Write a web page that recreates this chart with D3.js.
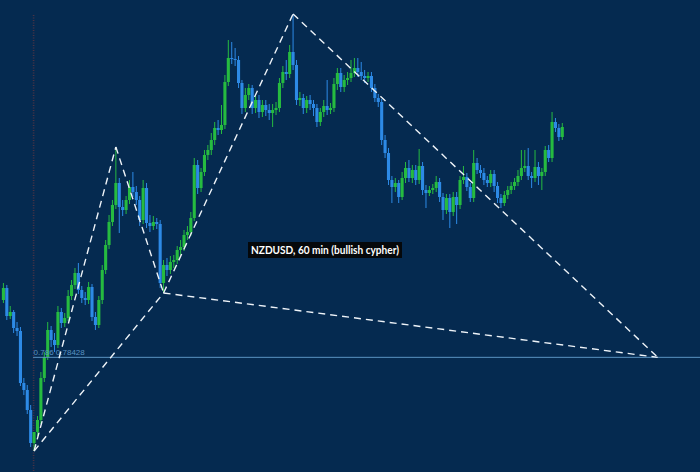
<!DOCTYPE html>
<html><head><meta charset="utf-8">
<script src="https://cdn.jsdelivr.net/npm/d3@7"></script>
<style>html,body{margin:0;padding:0;background:#052a50;overflow:hidden}</style>
</head><body>
<svg id="chart" width="700" height="472"></svg>
<script>
// Hourly NZDUSD candles, prices in points (1 point = 0.00001)
const opens = [
78600,78636,78552,78564,78516,78507,78351,78330,78270,78171,
78204,78240,78366,78429,78510,78480,78465,78564,78531,78546,
78612,78645,78681,78630,78606,78600,78639,78549,78525,78600,
78690,78765,78834,78885,78951,78879,78870,78900,78939,78924,
78900,78840,78936,78831,78822,78834,78828,78651,78705,78690,
78714,78720,78750,78759,78795,78804,78846,79005,78936,78984,
79035,79050,79080,79116,79110,79125,79254,79326,79323,79320,
79251,79176,79215,79236,79176,79200,79164,79185,79170,79161,
79170,79176,79251,79284,79278,79344,79305,79200,79206,79176,
79200,79188,79176,79134,79164,79182,79170,79176,79248,79281,
79239,79260,79266,79281,79296,79284,79272,79266,79272,79236,
79206,79194,79080,79041,78960,78939,78951,78909,78966,78996,
78966,78990,78960,79002,78930,78921,78930,78936,78954,78909,
78870,78906,78864,78909,78885,78960,78969,78939,78906,79011,
78990,78981,78960,78951,78978,78942,78906,78891,78915,78930,
78942,78954,78972,78996,79002,78972,78966,78999,78972,78984,
79050,79026,79134,79116,79089];
const highs = [
78651,78645,78582,78570,78534,78519,78366,78345,78285,78189,
78252,78384,78444,78534,78522,78501,78582,78576,78561,78630,
78660,78696,78711,78642,78624,78654,78648,78564,78612,78705,
78780,78855,78900,79059,78966,78900,78912,78960,78984,78942,
78912,78960,78951,78855,78852,78846,78840,78720,78726,78732,
78735,78762,78780,78810,78822,78864,79026,79020,78996,79050,
79065,79101,79134,79140,79185,79275,79380,79374,79356,79332,
79260,79236,79248,79245,79212,79215,79200,79200,79188,79188,
79194,79266,79302,79320,79365,79458,79320,79224,79218,79212,
79215,79200,79188,79176,79200,79260,79191,79266,79296,79296,
79275,79284,79320,79326,79326,79314,79290,79284,79284,79248,
79218,79203,79095,79056,78972,78966,78960,78984,79014,79020,
79005,79005,79053,79014,78945,78942,78948,78972,78966,78921,
78918,78918,78924,78924,78972,79002,78981,78951,79050,79026,
79005,78996,78972,78990,78990,78954,78918,78927,78942,78954,
78966,78990,79050,79050,79056,78984,79050,79014,78996,79062,
79065,79164,79146,79128,79131];
const lows = [
78591,78540,78543,78501,78492,78342,78315,78258,78159,78147,
78192,78228,78354,78420,78459,78444,78456,78516,78519,78537,
78600,78633,78618,78591,78585,78588,78537,78510,78516,78588,
78678,78753,78822,78873,78801,78852,78858,78888,78909,78885,
78822,78828,78816,78804,78810,78813,78636,78621,78672,78678,
78696,78708,78735,78747,78780,78792,78837,78918,78924,78972,
79020,79035,79065,79095,79098,79113,79242,79308,79302,79236,
79158,79164,79200,79158,79161,79146,79149,79152,79140,79119,
79155,79164,79236,79260,79266,79290,79185,79182,79158,79161,
79170,79152,79119,79122,79149,79155,79158,79164,79230,79224,
79224,79245,79254,79269,79269,79260,79251,79254,79224,79194,
79179,79065,79026,78945,78891,78924,78891,78900,78951,78954,
78951,78945,78948,78915,78876,78912,78918,78924,78894,78840,
78858,78816,78852,78828,78873,78948,78927,78894,78894,78978,
78966,78945,78939,78939,78924,78891,78876,78882,78903,78918,
78930,78942,78960,78984,78960,78936,78954,78945,78930,78972,
79014,79014,79104,79077,79080];
const closes = [
78636,78552,78564,78516,78507,78351,78330,78270,78171,78204,
78240,78366,78429,78510,78480,78465,78564,78531,78546,78612,
78645,78681,78630,78606,78600,78639,78549,78525,78600,78690,
78765,78834,78885,78951,78879,78870,78900,78939,78924,78900,
78840,78936,78831,78822,78834,78828,78651,78705,78690,78714,
78720,78750,78759,78795,78804,78846,79005,78936,78984,79035,
79050,79080,79116,79110,79125,79254,79326,79323,79320,79251,
79176,79215,79236,79176,79200,79164,79185,79170,79161,79170,
79176,79251,79284,79278,79344,79305,79200,79206,79176,79200,
79188,79176,79134,79164,79182,79170,79176,79248,79281,79239,
79260,79266,79281,79296,79284,79272,79266,79272,79236,79206,
79194,79080,79041,78960,78939,78951,78909,78966,78996,78966,
78990,78960,79002,78930,78921,78930,78936,78954,78909,78870,
78906,78864,78909,78885,78960,78969,78939,78906,79011,78990,
78981,78960,78951,78978,78942,78906,78891,78915,78930,78942,
78954,78972,78996,79002,78972,78966,78999,78972,78984,79050,
79026,79134,79116,79089,79119];

// Cypher pattern points (bar index, price in points)
const patternLabels = ["X","A","B","C","D"];
const patternIndex  = [9, 33, 47, 85, 192];
const patternPrice  = [78147, 79059, 78621, 79458, 78428];
const patternLegs   = [["X","A"],["A","B"],["X","B"],["B","C"],["C","D"],["B","D"]];

const levelPrice = 78428;
const levelLabel = "0.786 0.78428";
const levelStartIndex = 9;
const titleText = "NZDUSD, 60 min (bullish cypher)";

const W = 700, H = 472;
const svg = d3.select("#chart");
svg.append("rect").attr("width", W).attr("height", H).attr("fill", "#052a50");

const x = d3.scaleLinear().domain([-1, 205]).range([0, 702]);
const y = d3.scaleLinear().domain([78084, 79500]).range([H, 0]);

const UP = "#26bb40", DOWN = "#2d8ae6";

// vertical marker at X
svg.append("line")
  .attr("x1", x(patternIndex[0]) - 0.5).attr("x2", x(patternIndex[0]) - 0.5)
  .attr("y1", 15).attr("y2", H)
  .attr("stroke", "#4a3344").attr("stroke-width", 1.6).attr("stroke-dasharray", "1,1.5");

const candles = closes.map((c, i) => ({i, o: opens[i], h: highs[i], l: lows[i], c}));
const g = svg.append("g");
const bw = 3.1;
g.selectAll("line.wick").data(candles).join("line")
  .attr("class", "wick")
  .attr("x1", d => x(d.i)).attr("x2", d => x(d.i))
  .attr("y1", d => y(d.h)).attr("y2", d => y(d.l))
  .attr("stroke", d => d.c >= d.o ? UP : DOWN).attr("stroke-width", 1);
g.selectAll("rect.body").data(candles).join("rect")
  .attr("class", "body")
  .attr("x", d => x(d.i) - bw / 2).attr("width", bw)
  .attr("y", d => y(Math.max(d.o, d.c)))
  .attr("height", d => Math.max(1, Math.abs(y(d.o) - y(d.c))))
  .attr("fill", d => d.c >= d.o ? UP : DOWN);

// 0.786 level
const ly = y(levelPrice);
svg.append("line").attr("x1", x(levelStartIndex) - 1).attr("x2", W)
  .attr("y1", ly).attr("y2", ly).attr("stroke", "#5b93c2").attr("stroke-width", 1);
svg.append("text").attr("x", x(levelStartIndex) - 0.5).attr("y", ly - 2.5)
  .attr("font-family", "Liberation Sans, Arial, sans-serif").attr("font-size", 8)
  .attr("fill", "#5b93c2").text(levelLabel);

// pattern legs
const pt = {};
patternLabels.forEach((k, j) => pt[k] = [x(patternIndex[j]), y(patternPrice[j])]);
svg.append("g").selectAll("line").data(patternLegs).join("line")
  .attr("x1", d => pt[d[0]][0]).attr("y1", d => pt[d[0]][1])
  .attr("x2", d => pt[d[1]][0]).attr("y2", d => pt[d[1]][1])
  .attr("stroke", "#eef3f8").attr("stroke-width", 1.4)
  .attr("stroke-dasharray", "7,5");

// title label
const tg = svg.append("g");
const tr = tg.append("rect").attr("fill", "#05080b");
const tt = tg.append("text").attr("x", 325).attr("y", 254)
  .attr("text-anchor", "middle")
  .attr("font-family", "Lato, 'Liberation Sans', sans-serif")
  .attr("font-weight", "bold").attr("font-size", 11.5)
  .attr("fill", "#ffffff").text(titleText);
let tw = tt.node().getComputedTextLength();
if (Math.abs(tw - 148) > 4) { tt.attr("textLength", 148).attr("lengthAdjust", "spacingAndGlyphs"); tw = 148; }
tr.attr("x", 325 - tw / 2 - 3).attr("y", 242).attr("width", tw + 6).attr("height", 16);
</script>
</body></html>
